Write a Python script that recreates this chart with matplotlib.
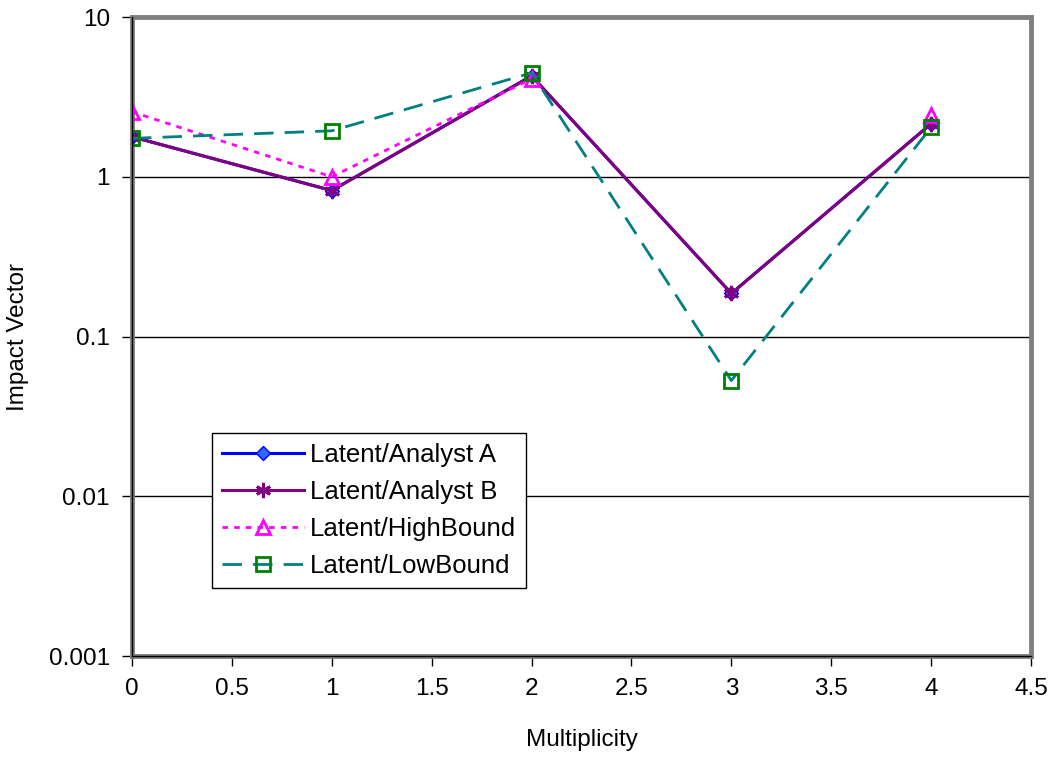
import matplotlib
matplotlib.use("Agg")
import matplotlib.pyplot as plt
from matplotlib.ticker import FixedLocator, FuncFormatter, NullLocator

plt.rcParams['font.family'] = ['Liberation Sans', 'DejaVu Sans']

nan = float('nan')
multiplicity = [0, 1, 2, 3, 4]
analyst_a = [1.78, 0.82, 4.28, 0.186, 2.15]
analyst_b = [1.78, 0.82, 4.28, 0.186, 2.15]
high_bound = [2.55, 1.0, 4.1, nan, 2.45]
low_bound = [1.74, 1.94, 4.47, 0.053, 2.04]

y_ticks = [0.001, 0.01, 0.1, 1, 10]
x_ticks = [0, 0.5, 1, 1.5, 2, 2.5, 3, 3.5, 4, 4.5]

FS = 17.5
LEG_FS = 18.5

fig = plt.figure(figsize=(10.55, 7.57), dpi=100)
ax = fig.add_axes([0.1251, 0.1334, 0.8522, 0.8441])

ax.set_yscale('log')
ax.set_ylim(0.001, 10)
ax.set_xlim(0, 4.5)

for yv in [0.01, 0.1, 1]:
    ax.axhline(yv, color='black', lw=1.0, zorder=1)

ax.plot(multiplicity, analyst_a, color='#0000FF', lw=2.2, marker='D', ms=7,
        mfc='#3366FF', mec='#0000FF', label='Latent/Analyst A', zorder=3)
ax.plot(multiplicity, analyst_b, color='#800080', lw=2.2, marker=(6, 2, 0), ms=11,
        mew=2, mec='#800080', label='Latent/Analyst B', zorder=4)
l_hi, = ax.plot(multiplicity, high_bound, color='#FF00FF', lw=2.0, marker='^', ms=10,
                mfc='none', mec='#FF00FF', mew=2, label='Latent/HighBound', zorder=5)
l_hi.set_dashes((2, 2.2))
l_lo, = ax.plot(multiplicity, low_bound, color='#008080', lw=2.0, marker='s', ms=10,
                mfc='none', mec='#008000', mew=2, label='Latent/LowBound', zorder=6)
l_lo.set_dashes((7, 4))

for side in ['top', 'right', 'left', 'bottom']:
    ax.spines[side].set_color('#808080')
    ax.spines[side].set_linewidth(3.5)
ax.axvline(0, color='black', lw=1.0, zorder=7, clip_on=False)
ax.axhline(0.001, color='black', lw=1.0, zorder=7, clip_on=False)

ax.yaxis.set_major_locator(FixedLocator(y_ticks))
ax.yaxis.set_minor_locator(NullLocator())
ax.yaxis.set_major_formatter(FuncFormatter(lambda v, p: ('%g' % v) if v >= 0.01 else '0.001'))
ax.xaxis.set_major_locator(FixedLocator(x_ticks))
ax.xaxis.set_major_formatter(FuncFormatter(lambda v, p: '%g' % v))
ax.tick_params(axis='both', direction='out', length=7, width=1, color='black',
               labelsize=FS, pad=9)

ax.set_xlabel('Multiplicity', fontsize=FS, labelpad=21)
ax.set_ylabel('Impact Vector', fontsize=FS, labelpad=14)

leg = ax.legend(loc='lower left', bbox_to_anchor=(0.089, 0.106), fontsize=LEG_FS,
                handlelength=3.2, frameon=True, fancybox=False, framealpha=1,
                edgecolor='black', borderpad=0.4, labelspacing=0.5,
                handletextpad=0.2, borderaxespad=0)
leg.get_frame().set_linewidth(1.0)

fig.savefig('out.png', dpi=100)
